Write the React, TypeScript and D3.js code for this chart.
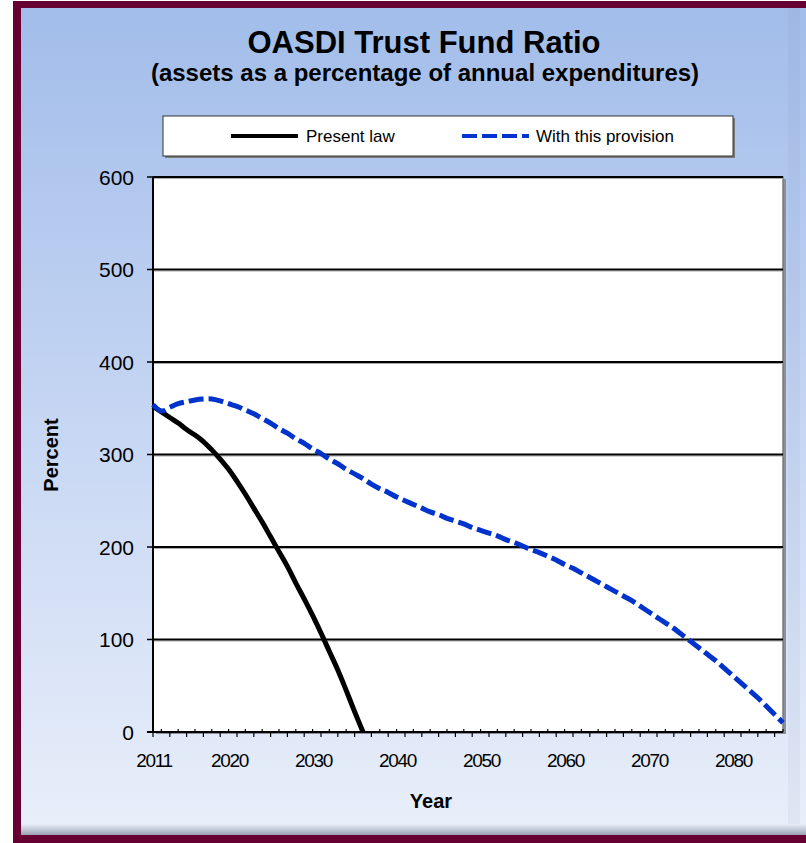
import * as d3 from 'd3';

// chart data
const years = [
  2011, 2012, 2013, 2014, 2015, 2016, 2017, 2018, 2019, 2020,
  2021, 2022, 2023, 2024, 2025, 2026, 2027, 2028, 2029, 2030,
  2031, 2032, 2033, 2034, 2035, 2036, 2037, 2038, 2039, 2040,
  2041, 2042, 2043, 2044, 2045, 2046, 2047, 2048, 2049, 2050,
  2051, 2052, 2053, 2054, 2055, 2056, 2057, 2058, 2059, 2060,
  2061, 2062, 2063, 2064, 2065, 2066, 2067, 2068, 2069, 2070,
  2071, 2072, 2073, 2074, 2075, 2076, 2077, 2078, 2079, 2080,
  2081, 2082, 2083, 2084, 2085, 2086,
];

// present law, 2011-2036 (trust fund depleted in 2036)
const presentLaw = [
  352, 346, 340, 334, 327, 321, 314, 305, 295, 284,
  271, 257, 242, 227, 211, 195, 179, 161, 144, 126,
  107, 87, 67, 45, 22, 0,
];

// with this provision, 2011-2086
const withProvision = [
  354, 347, 351, 355, 357, 359, 360, 360, 358, 355,
  352, 348, 344, 339, 334, 328, 323, 317, 312, 306,
  301, 295, 290, 284, 279, 274, 268, 263, 259, 254,
  250, 246, 242, 238, 235, 231, 228, 225, 221, 218,
  215, 212, 208, 205, 201, 197, 194, 190, 186, 181,
  177, 172, 167, 162, 157, 152, 147, 142, 136, 130,
  124, 118, 112, 105, 98, 91, 84, 77, 69, 61,
  53, 45, 37, 28, 19, 10,
];

const xTickLabels = [2011, 2020, 2030, 2040, 2050, 2060, 2070, 2080];
const yTicks = [0, 100, 200, 300, 400, 500, 600];

const FONT = "'Liberation Sans', Arial, sans-serif";

const W = 806;
const H = 843;
const plot = { left: 153, top: 177, right: 783, bottom: 732 };

export default function App() {
  const x = d3.scaleLinear().domain([2011, 2086]).range([plot.left, plot.right]);
  const y = d3.scaleLinear().domain([0, 600]).range([plot.bottom, plot.top]);

  const line = d3
    .line<[number, number]>()
    .x((d) => x(d[0]))
    .y((d) => y(d[1]))
    .curve(d3.curveCatmullRom.alpha(0.5));

  const blackPath = line(presentLaw.map((v, i) => [years[i], v]));
  const bluePath = line(withProvision.map((v, i) => [years[i], v]));

  return (
    <svg
      width={W}
      height={H}
      style={{ position: 'absolute', left: 0, top: 0, display: 'block' }}
    >
      <defs>
        <linearGradient id="bg" x1="0" y1="0" x2="0" y2="1">
          <stop offset="0%" stopColor="#a2bdea" />
          <stop offset="50%" stopColor="#c6d6f3" />
          <stop offset="100%" stopColor="#e9effa" />
        </linearGradient>
        <linearGradient id="bottomShade" x1="0" y1="0" x2="0" y2="1">
          <stop offset="0%" stopColor="#e9effa" />
          <stop offset="100%" stopColor="#9aa3b4" />
        </linearGradient>
      </defs>

      {/* frame */}
      <rect x={13} y={1} width={W} height={H} fill="#660033" />
      <rect x={21} y={8} width={W} height={827} fill="url(#bg)" />
      <rect x={21} y={824} width={W} height={11} fill="url(#bottomShade)" />
      <rect x={788} y={8} width={12} height={816} fill="#6f7fa8" opacity={0.08} />

      {/* title */}
      <text x={424} y={53} textAnchor="middle" fontFamily={FONT} fontWeight="bold" fontSize={31}>
        OASDI Trust Fund Ratio
      </text>
      <text x={425} y={81} textAnchor="middle" fontFamily={FONT} fontWeight="bold" fontSize={24}>
        (assets as a percentage of annual expenditures)
      </text>

      {/* legend */}
      <rect x={165} y={118} width={570} height={40} fill="#7a7a7a" />
      <rect x={163} y={116} width={570} height={40} fill="#fff" stroke="#333" strokeWidth={1} />
      <line x1={231} x2={298} y1={136} y2={136} stroke="#000" strokeWidth={4} />
      <text x={306} y={142} fontFamily={FONT} fontSize={17}>Present law</text>
      <line x1={462} x2={529} y1={136} y2={136} stroke="#0033cc" strokeWidth={4} strokeDasharray="15,5" />
      <text x={536} y={142} fontFamily={FONT} fontSize={17}>With this provision</text>

      {/* plot area */}
      <rect x={plot.left + 3} y={plot.top + 2} width={plot.right - plot.left} height={plot.bottom - plot.top} fill="#8a8f99" />
      <rect x={plot.left} y={plot.top} width={plot.right - plot.left} height={plot.bottom - plot.top} fill="#fff" stroke="#7b7b7b" strokeWidth={1.5} />

      {/* gridlines */}
      {yTicks.filter((t) => t > 0).map((t) => (
        <g key={t}>
          <line x1={plot.left} x2={plot.right} y1={y(t) + 1.5} y2={y(t) + 1.5} stroke="#aaa" strokeWidth={1} />
          <line x1={plot.left} x2={plot.right} y1={y(t)} y2={y(t)} stroke="#000" strokeWidth={2} />
        </g>
      ))}

      {/* y axis */}
      <line x1={plot.left} x2={plot.left} y1={plot.top} y2={plot.bottom} stroke="#000" strokeWidth={2} />
      {yTicks.map((t) => (
        <g key={t}>
          <line x1={plot.left - 6} x2={plot.left} y1={y(t)} y2={y(t)} stroke="#000" strokeWidth={1.5} />
          <text x={134} y={y(t) + 7.5} textAnchor="end" fontFamily={FONT} fontSize={21}>
            {t}
          </text>
        </g>
      ))}

      {/* x axis */}
      <line x1={plot.left - 6} x2={plot.right} y1={plot.bottom} y2={plot.bottom} stroke="#000" strokeWidth={2} />
      {years.map((yr, i) => (
        <line
          key={yr}
          x1={x(yr)}
          x2={x(yr)}
          y1={i % 2 === 0 ? plot.bottom : plot.bottom - 3}
          y2={i % 2 === 0 ? plot.bottom + 5 : plot.bottom}
          stroke="#000"
          strokeWidth={1.2}
        />
      ))}
      {xTickLabels.map((yr) => (
        <text
          key={yr}
          x={x(yr) + 1}
          y={767}
          textAnchor="middle"
          fontFamily={FONT}
          fontSize={19}
          letterSpacing={-1.3}
        >
          {yr}
        </text>
      ))}

      {/* series */}
      <path d={blackPath ?? ''} fill="none" stroke="#000" strokeWidth={5} />
      <path d={bluePath ?? ''} fill="none" stroke="#0033cc" strokeWidth={5} strokeDasharray="15,5" />

      {/* axis titles */}
      <text
        transform="translate(58,455) rotate(-90)"
        textAnchor="middle"
        fontFamily={FONT}
        fontWeight="bold"
        fontSize={20}
      >
        Percent
      </text>
      <text x={431} y={808} textAnchor="middle" fontFamily={FONT} fontWeight="bold" fontSize={20}>
        Year
      </text>
    </svg>
  );
}
